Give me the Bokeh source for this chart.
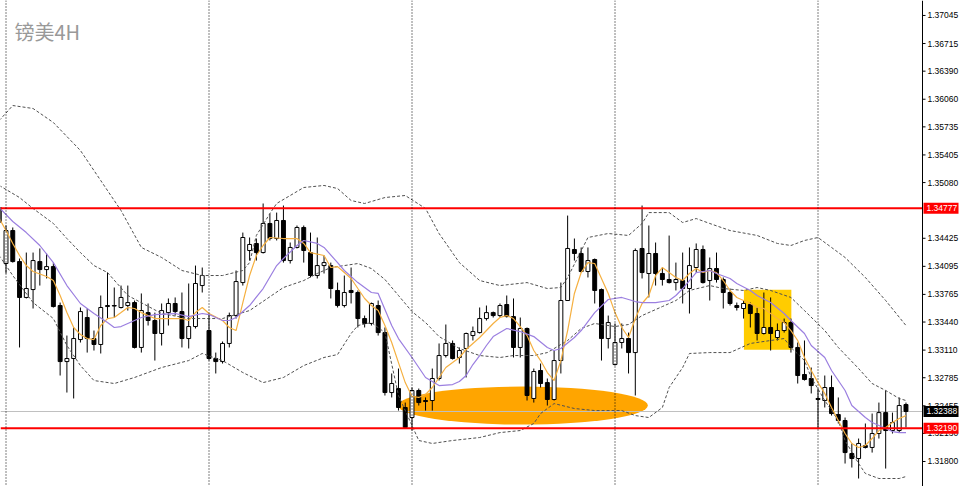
from bokeh.plotting import figure
from bokeh.models import Range1d, Label, Span
from bokeh.embed import file_html
from bokeh.resources import INLINE

# ---------------- data (GBPUSD 4H) ----------------
idx = list(range(-1, 134))
opens = [
    1.34787, 1.34128, 1.34516, 1.34151, 1.33729, 1.33822, 1.34151, 1.34057, 1.34092, 1.33634,
    1.32975, 1.33011, 1.33234, 1.33493, 1.33246, 1.33176, 1.33622, 1.33634, 1.33611, 1.33634,
    1.33669, 1.33141, 1.33551, 1.33458, 1.33305, 1.33551, 1.33658, 1.33563, 1.33246, 1.33387,
    1.33869, 1.33340, 1.33011, 1.32975, 1.33188, 1.33516, 1.33904, 1.34281, 1.34364, 1.34257,
    1.34599, 1.34422, 1.34634, 1.34163, 1.34317, 1.34552, 1.34257, 1.33987, 1.34104, 1.34104,
    1.33811, 1.33634, 1.33811, 1.33787, 1.33481, 1.33423, 1.33634, 1.33316, 1.32611, 1.32658,
    1.32435, 1.32317, 1.32635, 1.32517, 1.32517, 1.32776, 1.33046, 1.33188, 1.33023, 1.33129,
    1.33281, 1.33316, 1.33481, 1.33551, 1.33516, 1.33646, 1.33504, 1.33141, 1.33364, 1.32541,
    1.32870, 1.32728, 1.32529, 1.32987, 1.33693, 1.34293, 1.34246, 1.34034, 1.34175, 1.33822,
    1.33246, 1.32940, 1.33199, 1.33246, 1.33081, 1.34305, 1.34011, 1.34246, 1.34011, 1.33940,
    1.33904, 1.33928, 1.33834, 1.34081, 1.34293, 1.33928, 1.34069, 1.33940, 1.33787, 1.33634,
    1.33599, 1.33646, 1.33540, 1.33305, 1.33376, 1.33258, 1.33340, 1.33434, 1.33141, 1.32823,
    1.32776, 1.32541, 1.32517, 1.32670, 1.32352, 1.32282, 1.31894, 1.31835, 1.31988, 1.31965,
    1.32129, 1.32375, 1.32164, 1.32164, 1.32470,
]
highs = [
    1.34822, 1.34575, 1.34552, 1.34187, 1.34257, 1.34257, 1.34305, 1.34246, 1.34139, 1.33669,
    1.33281, 1.33376, 1.33611, 1.33599, 1.33340, 1.33752, 1.34022, 1.33846, 1.33869, 1.33869,
    1.33693, 1.33776, 1.33658, 1.33551, 1.33658, 1.33717, 1.33729, 1.33787, 1.33893, 1.34104,
    1.34081, 1.33540, 1.33081, 1.33211, 1.33551, 1.34046, 1.34492, 1.34434, 1.34422, 1.34834,
    1.34716, 1.34727, 1.34810, 1.34375, 1.34575, 1.34575, 1.34492, 1.34434, 1.34222, 1.34139,
    1.33904, 1.33987, 1.34081, 1.33811, 1.33516, 1.33669, 1.33693, 1.33376, 1.32835, 1.32893,
    1.32493, 1.32670, 1.32658, 1.32553, 1.32893, 1.33188, 1.33411, 1.33223, 1.33141, 1.33316,
    1.33387, 1.33611, 1.33634, 1.33563, 1.33658, 1.33752, 1.33717, 1.33493, 1.33376, 1.32893,
    1.32952, 1.32776, 1.33105, 1.33904, 1.34692, 1.34422, 1.34317, 1.34317, 1.34187, 1.33834,
    1.33516, 1.33423, 1.33423, 1.33316, 1.34305, 1.34810, 1.34575, 1.34375, 1.34081, 1.34457,
    1.34139, 1.34257, 1.34317, 1.34364, 1.34340, 1.34199, 1.34257, 1.33964, 1.33834, 1.33669,
    1.33693, 1.33669, 1.33611, 1.33787, 1.33729, 1.33423, 1.33481, 1.33481, 1.33199, 1.33223,
    1.32905, 1.32658, 1.32811, 1.32811, 1.32553, 1.32317, 1.32012, 1.32070, 1.32247, 1.32364,
    1.32493, 1.32635, 1.32375, 1.32553, 1.32493,
]
lows = [
    1.34563, 1.34011, 1.34139, 1.33141, 1.33717, 1.33599, 1.33869, 1.33952, 1.33611, 1.32811,
    1.32611, 1.32541, 1.33199, 1.33081, 1.33105, 1.33070, 1.33481, 1.33493, 1.33599, 1.33575,
    1.33129, 1.33081, 1.33399, 1.32987, 1.33164, 1.33399, 1.33516, 1.33141, 1.33129, 1.33364,
    1.33787, 1.32987, 1.32835, 1.32952, 1.33141, 1.33481, 1.33869, 1.34163, 1.34163, 1.34246,
    1.34399, 1.34399, 1.34139, 1.34128, 1.34305, 1.34139, 1.33964, 1.33952, 1.34011, 1.33717,
    1.33611, 1.33611, 1.33658, 1.33376, 1.33376, 1.33399, 1.33281, 1.32576, 1.32553, 1.32399,
    1.32188, 1.32164, 1.32458, 1.32399, 1.32399, 1.32752, 1.33023, 1.32999, 1.32952, 1.32788,
    1.33223, 1.33305, 1.33458, 1.33493, 1.33493, 1.33493, 1.33023, 1.33023, 1.32517, 1.32493,
    1.32670, 1.32458, 1.32517, 1.32835, 1.33693, 1.34163, 1.34022, 1.33964, 1.33658, 1.32987,
    1.33129, 1.32928, 1.33129, 1.32835, 1.32576, 1.33952, 1.33729, 1.33869, 1.33869, 1.33893,
    1.33811, 1.33658, 1.33540, 1.34022, 1.33893, 1.33693, 1.33904, 1.33599, 1.33634, 1.33575,
    1.33481, 1.33376, 1.33223, 1.33293, 1.33105, 1.33223, 1.33316, 1.33081, 1.32717, 1.32752,
    1.32600, 1.32200, 1.32435, 1.32340, 1.32247, 1.31776, 1.31729, 1.31600, 1.31953, 1.31905,
    1.32070, 1.31717, 1.32129, 1.32140, 1.32200,
]
closes = [
    1.34610, 1.34516, 1.34151, 1.33729, 1.33834, 1.34163, 1.34057, 1.34092, 1.33622, 1.32975,
    1.33011, 1.33246, 1.33563, 1.33246, 1.33176, 1.33611, 1.33634, 1.33628, 1.33729, 1.33669,
    1.33141, 1.33575, 1.33458, 1.33305, 1.33575, 1.33658, 1.33563, 1.33246, 1.33387, 1.33893,
    1.33987, 1.33011, 1.32975, 1.33188, 1.33516, 1.33916, 1.34434, 1.34352, 1.34257, 1.34599,
    1.34422, 1.34634, 1.34163, 1.34317, 1.34552, 1.34281, 1.33987, 1.34104, 1.34139, 1.33834,
    1.33634, 1.33787, 1.33787, 1.33481, 1.33423, 1.33658, 1.33316, 1.32611, 1.32717, 1.32435,
    1.32200, 1.32635, 1.32493, 1.32505, 1.32776, 1.33046, 1.33188, 1.33011, 1.33105, 1.33305,
    1.33328, 1.33481, 1.33551, 1.33516, 1.33634, 1.33504, 1.33141, 1.33364, 1.32576, 1.32858,
    1.32717, 1.32529, 1.32987, 1.33693, 1.34305, 1.34246, 1.34034, 1.34163, 1.33811, 1.33246,
    1.33434, 1.33199, 1.33246, 1.33081, 1.34281, 1.34022, 1.34246, 1.34011, 1.33940, 1.33904,
    1.33940, 1.33834, 1.34104, 1.34293, 1.33904, 1.34069, 1.33940, 1.33787, 1.33658, 1.33611,
    1.33658, 1.33540, 1.33305, 1.33376, 1.33305, 1.33340, 1.33434, 1.33141, 1.32811, 1.32764,
    1.32693, 1.32529, 1.32670, 1.32364, 1.32282, 1.31905, 1.31835, 1.32012, 1.31965, 1.32129,
    1.32375, 1.32164, 1.32258, 1.32458, 1.32388,
]

# fast moving average (orange)
ma_fast_k = [-1, 0, 1, 2, 3, 4, 6, 7, 8, 9, 10, 11, 12, 13, 14, 15, 16, 17, 18, 19, 20, 22, 24, 26, 27,
             28, 29, 30, 32, 33, 34, 35, 36, 37, 38, 39, 41, 43, 44, 45, 47, 48, 49, 50, 51, 52, 53,
             54, 55, 56, 57, 58, 59, 60, 61, 62, 63, 64, 65, 66, 67, 68, 69, 70, 71, 72, 73, 74, 75,
             76, 77, 78, 79, 80, 81, 82, 83, 84, 85, 86, 87, 88, 89, 90, 91, 92, 93, 94, 95, 96, 97,
             98, 99, 100, 101, 102, 103, 104, 105, 106, 107, 108, 109, 110, 111, 112, 113, 114, 115,
             116, 117, 118, 119, 120, 121, 122, 123, 124, 125, 126, 127, 128, 129, 130, 131, 132, 133]
ma_fast = [1.34658, 1.34516, 1.34364, 1.34222, 1.34104, 1.34034, 1.33976, 1.33928, 1.33752, 1.33551,
           1.33376, 1.33293, 1.33246, 1.33234, 1.33399, 1.33481, 1.33493, 1.33551, 1.33611, 1.33599,
           1.33551, 1.33481, 1.33481, 1.33481, 1.33458, 1.33551, 1.33611, 1.33540, 1.33458, 1.33376,
           1.33340, 1.33669, 1.33987, 1.34222, 1.34340, 1.34434, 1.34422, 1.34422, 1.34364, 1.34257,
           1.34222, 1.34081, 1.34092, 1.34022, 1.33952, 1.33834, 1.33717, 1.33634, 1.33575, 1.33399,
           1.33199, 1.32963, 1.32728, 1.32564, 1.32553, 1.32588, 1.32670, 1.32788, 1.32905, 1.32963,
           1.33023, 1.33117, 1.33188, 1.33258, 1.33340, 1.33423, 1.33493, 1.33516, 1.33481, 1.33387,
           1.33281, 1.33105, 1.32987, 1.32846, 1.32752, 1.32987, 1.33340, 1.33776, 1.34022, 1.34139,
           1.34128, 1.33952, 1.33776, 1.33551, 1.33376, 1.33258, 1.33481, 1.33658, 1.33752, 1.33987,
           1.34081, 1.34022, 1.33964, 1.33928, 1.34011, 1.34069, 1.34022, 1.34046, 1.34022, 1.33928,
           1.33811, 1.33729, 1.33693, 1.33658, 1.33611, 1.33599, 1.33540, 1.33481, 1.33434, 1.33340,
           1.33223, 1.33023, 1.32870, 1.32728, 1.32600, 1.32435, 1.32282, 1.32129, 1.32012, 1.31965,
           1.31988, 1.32070, 1.32164, 1.32200, 1.32258, 1.32305, 1.32340]

# slow moving average (purple)
ma_slow_k = [-1, 1, 3, 5, 7, 9, 11, 13, 15, 16, 17, 18, 20, 22, 25, 27, 29, 30, 32, 33, 34, 36, 38, 40,
             41, 43, 44, 46, 47, 49, 50, 52, 54, 55, 57, 58, 60, 62, 64, 66, 67, 68, 69, 70, 71, 72, 74,
             76, 78, 80, 81, 82, 84, 85, 87, 89, 91, 93, 94, 96, 98, 99, 100, 101, 102, 104, 105, 107,
             108, 110, 111, 113, 115, 116, 118, 119, 121, 122, 124, 125, 127, 128, 130, 131, 132, 133]
ma_slow = [1.34787, 1.34622, 1.34492, 1.34340, 1.34139, 1.33869, 1.33658, 1.33540, 1.33434, 1.33376,
           1.33387, 1.33423, 1.33493, 1.33528, 1.33540, 1.33504, 1.33540, 1.33528, 1.33458, 1.33458,
           1.33493, 1.33634, 1.33834, 1.34104, 1.34187, 1.34340, 1.34399, 1.34364, 1.34317, 1.34139,
           1.34046, 1.33904, 1.33787, 1.33776, 1.33399, 1.33246, 1.33023, 1.32788, 1.32693, 1.32705,
           1.32740, 1.32811, 1.32940, 1.33046, 1.33164, 1.33269, 1.33364, 1.33328, 1.33269, 1.33141,
           1.33105, 1.33129, 1.33258, 1.33340, 1.33551, 1.33705, 1.33729, 1.33681, 1.33669, 1.33669,
           1.33693, 1.33752, 1.33834, 1.33928, 1.34022, 1.34046, 1.34011, 1.33952, 1.33893, 1.33811,
           1.33752, 1.33669, 1.33540, 1.33458, 1.33305, 1.33164, 1.33023, 1.32870, 1.32635, 1.32458,
           1.32317, 1.32258, 1.32188, 1.32152, 1.32140, 1.32140]

# Bollinger bands (dashed)
bb_up_k = [-1, 1, 4, 7, 11, 14, 17, 20, 23, 26, 29, 32, 35, 36, 37, 39, 40, 44, 47, 49, 51, 53, 56, 59,
           62, 64, 67, 70, 73, 77, 80, 82, 83, 86, 89, 92, 94, 95, 98, 100, 102, 104, 107, 111, 114,
           116, 118, 120, 122, 124, 127, 130, 133]
bb_up = [1.35810, 1.35986, 1.35951, 1.35786, 1.35457, 1.35104, 1.34751, 1.34317, 1.34199, 1.34046,
         1.33987, 1.33987, 1.34046, 1.34139, 1.34458, 1.34716, 1.34834, 1.35022, 1.35046, 1.35010,
         1.34869, 1.34834, 1.34904, 1.34928, 1.34775, 1.34481, 1.34139, 1.33928, 1.33869, 1.33904,
         1.33834, 1.33846, 1.33964, 1.34434, 1.34481, 1.34458, 1.34599, 1.34727, 1.34727, 1.34610,
         1.34657, 1.34599, 1.34516, 1.34458, 1.34364, 1.34340, 1.34399, 1.34434, 1.34317, 1.34199,
         1.33964, 1.33693, 1.33399]
bb_mid_k = [-1, 2, 4, 7, 9, 11, 13, 15, 18, 23, 27, 32, 36, 41, 44, 46, 48, 50, 52, 54, 56, 58, 60, 62,
            64, 67, 70, 73, 75, 78, 80, 83, 85, 87, 90, 92, 94, 97, 99, 101, 104, 106, 109, 111, 113,
            116, 118, 121, 123, 126, 128, 130, 132, 133]
bb_mid = [1.35046, 1.34904, 1.34775, 1.34599, 1.34422, 1.34257, 1.34104, 1.34022, 1.33752, 1.33540,
          1.33481, 1.33481, 1.33575, 1.33846, 1.33928, 1.34011, 1.34081, 1.34104, 1.34128, 1.34069,
          1.33940, 1.33752, 1.33563, 1.33434, 1.33269, 1.33129, 1.33046, 1.33023, 1.33046, 1.33046,
          1.33081, 1.33223, 1.33364, 1.33423, 1.33387, 1.33411, 1.33516, 1.33622, 1.33693, 1.33811,
          1.33869, 1.33834, 1.33811, 1.33846, 1.33811, 1.33729, 1.33575, 1.33340, 1.33141, 1.32893,
          1.32717, 1.32635, 1.32541, 1.32517]
bb_low_k = [-1, 1, 4, 7, 9, 11, 13, 16, 19, 23, 27, 29, 32, 35, 38, 41, 44, 47, 49, 51, 52, 54, 56, 58,
            60, 61, 63, 66, 70, 73, 76, 78, 79, 81, 84, 87, 91, 93, 95, 97, 98, 100, 101, 104, 107,
            110, 115, 116, 118, 119, 121, 123, 124, 126, 127, 129, 132, 133]
bb_low = [1.34222, 1.33987, 1.33669, 1.33481, 1.33164, 1.32928, 1.32752, 1.32717, 1.32788, 1.32905,
          1.32987, 1.33070, 1.32987, 1.32846, 1.32728, 1.32788, 1.32928, 1.33023, 1.33058, 1.33305,
          1.33399, 1.33434, 1.33316, 1.32576, 1.32223, 1.32047, 1.32012, 1.32047, 1.32082, 1.32140,
          1.32164, 1.32247, 1.32364, 1.32481, 1.32423, 1.32399, 1.32399, 1.32340, 1.32317, 1.32435,
          1.32670, 1.32905, 1.33070, 1.33081, 1.33081, 1.33188, 1.33246, 1.33141, 1.32987, 1.32788,
          1.32517, 1.32282, 1.32047, 1.31776, 1.31659, 1.31600, 1.31600, 1.31623]

# levels and price scale
resistance = 1.34777
support = 1.32190
last_price = 1.32388
week_starts = [0, 30, 60, 90, 120]
tick_values = [1.37045, 1.36715, 1.36390, 1.36060, 1.35735, 1.35405, 1.35080, 1.34425, 1.34095,
               1.33765, 1.33440, 1.33110, 1.32785, 1.32455, 1.32130, 1.31800]
tick_labels = ["1.37045", "1.36715", "1.36390", "1.36060", "1.35735", "1.35405", "1.35080", "1.34425",
               "1.34095", "1.33765", "1.33440", "1.33110", "1.32785", "1.32455", "1.32130", "1.31800"]
tag_values = [resistance, last_price, support]
tag_labels = ["1.34777", "1.32388", "1.32190"]
tag_colors = ["#FF0000", "#000000", "#FF0000"]
title_text = "镑美4H"

# highlight shapes (annotation)
ellipse_center = (76.4, 1.32458)
ellipse_size = (36.9, 0.00447)
box_left, box_right = 109.05, 116.06
box_bottom, box_top = 1.33113, 1.33819

# ---------------- figure ----------------
W, H = 960, 486
PX_PER_BAR = 6.7667
X0 = -0.813
X1 = X0 + W / PX_PER_BAR
Y0, Y1 = 1.31506, 1.37221
PRICE_PER_PX = (Y1 - Y0) / H


def px(n):
    """horizontal screen distance (pixels) -> bar units"""
    return n / PX_PER_BAR


AXIS_X = X0 + px(922)       # price-scale line position

p = figure(width=W, height=H, output_backend="svg", toolbar_location=None,
           x_range=Range1d(X0, X1), y_range=Range1d(Y0, Y1),
           x_axis_location=None, y_axis_location=None,
           min_border_left=0, min_border_top=0, min_border_bottom=0, min_border_right=0)
p.grid.visible = False
p.outline_line_color = None
p.background_fill_color = "white"
p.border_fill_color = "white"

# annotations in background
p.ellipse(x=[ellipse_center[0]], y=[ellipse_center[1]], width=[ellipse_size[0]],
          height=[ellipse_size[1]], fill_color="#FFA500", line_color=None)
p.quad(left=[box_left], right=[box_right], bottom=[box_bottom], top=[box_top],
       fill_color="#FFCC00", line_color=None)

for w in week_starts:
    p.add_layout(Span(location=w, dimension="height", line_color="#000000", line_width=1,
                      line_dash="1 2"))

p.segment(x0=[X0], x1=[AXIS_X], y0=[last_price], y1=[last_price], line_color="#C0C0C0", line_width=1)

# candles
up_i = [i for i in range(len(idx)) if closes[i] >= opens[i]]
dn_i = [i for i in range(len(idx)) if closes[i] < opens[i]]
p.segment(x0=idx, y0=lows, x1=idx, y1=highs, line_color="#000000", line_width=1)
p.vbar(x=[idx[i] for i in up_i], bottom=[opens[i] for i in up_i], top=[closes[i] for i in up_i],
       width=0.58, fill_color="white", line_color="#000000", line_width=1)
p.vbar(x=[idx[i] for i in dn_i], bottom=[closes[i] for i in dn_i], top=[opens[i] for i in dn_i],
       width=0.58, fill_color="#000000", line_color="#000000", line_width=1)

# indicators
p.line(bb_up_k, bb_up, line_color="#505050", line_width=1, line_dash="3 2")
p.line(bb_mid_k, bb_mid, line_color="#505050", line_width=1, line_dash="3 2")
p.line(bb_low_k, bb_low, line_color="#505050", line_width=1, line_dash="3 2")
p.line(ma_fast_k, ma_fast, line_color="#F5B041", line_width=1.2)
p.line(ma_slow_k, ma_slow, line_color="#9B7FE0", line_width=1.2)

# horizontal levels
p.segment(x0=[X0, X0], x1=[AXIS_X, AXIS_X], y0=[resistance, support], y1=[resistance, support],
          line_color="#FF0000", line_width=2)

# price scale on the right (drawn on the chart's own scales)
p.rect(x=[(AXIS_X + X1) / 2], y=[(Y0 + Y1) / 2], width=[X1 - AXIS_X], height=[Y1 - Y0],
       fill_color="white", line_color=None)
p.segment(x0=[AXIS_X], x1=[AXIS_X], y0=[Y0], y1=[Y1], line_color="#000000", line_width=1)
p.segment(x0=[AXIS_X] * len(tick_values), x1=[AXIS_X + px(3)] * len(tick_values),
          y0=tick_values, y1=tick_values, line_color="#000000", line_width=1)
p.text(x=[AXIS_X + px(5)] * len(tick_values), y=tick_values, text=tick_labels,
       text_font_size="8.5px", text_color="#000000", text_baseline="middle", text_align="left",
       text_font={"value": "Liberation Sans"})

# price tags
tag_half = 5.5 * PRICE_PER_PX
p.quad(left=[AXIS_X + px(1)] * 3, right=[AXIS_X + px(36)] * 3,
       bottom=[v - tag_half for v in tag_values], top=[v + tag_half for v in tag_values],
       fill_color=tag_colors, line_color=None)
p.text(x=[AXIS_X + px(4)] * 3, y=tag_values, text=tag_labels,
       text_font_size="8.5px", text_color="white", text_baseline="middle", text_align="left",
       text_font={"value": "Liberation Sans"})

# title
p.add_layout(Label(x=X0 + px(14), y=Y1 - 15 * PRICE_PER_PX, text=title_text, text_color="#999999",
                   text_font="Noto Sans CJK SC", text_font_size="20px",
                   text_baseline="top", text_align="left", y_offset=-1))

html = file_html(p, INLINE)
html = html.replace("<head>", "<head><style>html,body{margin:0;padding:0;overflow:hidden;}</style>", 1)
open("out.html", "w").write(html)
